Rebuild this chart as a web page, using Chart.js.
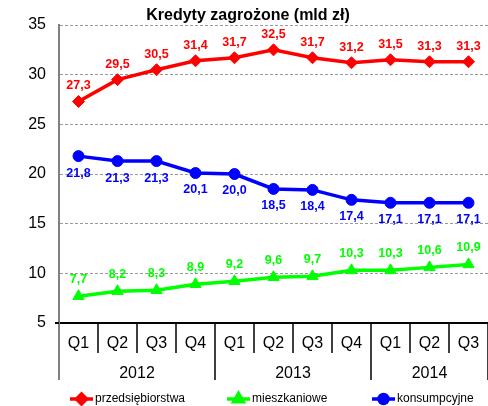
<!DOCTYPE html>
<html>
<head>
<meta charset="utf-8">
<script src="https://cdn.jsdelivr.net/npm/chart.js@4/dist/chart.umd.min.js"></script>
<style>
  html, body { margin: 0; padding: 0; background: #fff; }
  canvas { display: block; }
</style>
</head>
<body>
<canvas id="kredytyChart" width="488" height="406"></canvas>
<script>
// dane kwartalne (mld zł)
const quarters = ['Q1', 'Q2', 'Q3', 'Q4', 'Q1', 'Q2', 'Q3', 'Q4', 'Q1', 'Q2', 'Q3'];
const years = ['2012', '2013', '2014'];
const quartersPerYear = [4, 4, 3];
const przedsiebiorstwa = [27.3, 29.5, 30.5, 31.4, 31.7, 32.5, 31.7, 31.2, 31.5, 31.3, 31.3];
const mieszkaniowe = [7.7, 8.2, 8.3, 8.9, 9.2, 9.6, 9.7, 10.3, 10.3, 10.6, 10.9];
const konsumpcyjne = [21.8, 21.3, 21.3, 20.1, 20.0, 18.5, 18.4, 17.4, 17.1, 17.1, 17.1];
const yMin = 5, yMax = 35, yStep = 5;
const chartTitle = 'Kredyty zagrożone (mld zł)';

const FONT = 'Arial, "Liberation Sans", sans-serif';

function fmt(v) {
    return v.toFixed(1).replace('.', ',');
}

// etykiety wartości nad / pod punktami
const valueLabels = {
    id: 'valueLabels',
    afterDatasetsDraw(chart) {
        const ctx = chart.ctx;
        ctx.save();
        ctx.font = 'bold 12.5px ' + FONT;
        ctx.textAlign = 'center';
        ctx.textBaseline = 'middle';
        chart.data.datasets.forEach((ds, i) => {
            const meta = chart.getDatasetMeta(i);
            ctx.fillStyle = ds.borderColor;
            meta.data.forEach((pt, j) => {
                ctx.fillText(fmt(ds.data[j]), pt.x, pt.y + ds.labelOffset);
            });
        });
        ctx.restore();
    }
};

// tytuł, dwupoziomowa oś X i legenda
const decorations = {
    id: 'decorations',
    afterDraw(chart) {
        const ctx = chart.ctx;
        const area = chart.chartArea;
        const x = chart.scales.x;
        const bottom = area.bottom;

        ctx.save();
        // tytuł
        ctx.fillStyle = '#000';
        ctx.font = 'bold 16px ' + FONT;
        ctx.textAlign = 'center';
        ctx.textBaseline = 'middle';
        ctx.fillText(chartTitle, 248, 16);

        // linie podziału kategorii
        const step = x.getPixelForValue(1) - x.getPixelForValue(0);
        const yearEnds = [];
        let acc = 0;
        quartersPerYear.forEach(n => { acc += n; yearEnds.push(acc); });
        for (let k = 0; k <= quarters.length; k++) {
            const px = x.getPixelForValue(0) - step / 2 + k * step;
            const longLine = k === 0 || yearEnds.includes(k);
            ctx.beginPath();
            ctx.lineWidth = k === 0 ? 2 : 1.5;
            ctx.strokeStyle = k === 0 ? '#808080' : '#000';
            ctx.moveTo(px, bottom);
            ctx.lineTo(px, longLine ? 380 : 353);
            ctx.stroke();
        }
        // krótki odcinek osi X na lewo od osi Y
        ctx.beginPath();
        ctx.lineWidth = 2;
        ctx.strokeStyle = '#000';
        ctx.moveTo(area.left - 4, bottom);
        ctx.lineTo(area.left, bottom);
        ctx.stroke();

        // kwartały
        ctx.fillStyle = '#000';
        ctx.font = '16px ' + FONT;
        quarters.forEach((q, i) => {
            ctx.fillText(q, x.getPixelForValue(i), 344);
        });
        // lata
        let start = 0;
        years.forEach((yr, i) => {
            const n = quartersPerYear[i];
            const cx = (x.getPixelForValue(start) + x.getPixelForValue(start + n - 1)) / 2;
            ctx.fillText(yr, cx, 374);
            start += n;
        });

        // legenda
        const legendX = [70, 227, 372];
        ctx.font = '12px ' + FONT;
        ctx.textAlign = 'left';
        chart.data.datasets.forEach((ds, i) => {
            const lx = legendX[i];
            const ly = 399;
            ctx.strokeStyle = ds.borderColor;
            ctx.fillStyle = ds.borderColor;
            ctx.lineWidth = 3.5;
            ctx.beginPath();
            ctx.moveTo(lx, ly);
            ctx.lineTo(lx + 23, ly);
            ctx.stroke();
            Chart.helpers.drawPoint(ctx, {
                pointStyle: ds.pointStyle,
                radius: ds.pointRadius - 1,
                rotation: 0,
                borderWidth: 1
            }, lx + 11.5, ly);
            ctx.fillStyle = '#000';
            ctx.fillText(ds.label, lx + 25, ly);
        });
        ctx.restore();
    }
};

const ctx = document.getElementById('kredytyChart').getContext('2d');
new Chart(ctx, {
    type: 'line',
    data: {
        labels: quarters,
        datasets: [{
            label: 'przedsiębiorstwa',
            data: przedsiebiorstwa,
            borderColor: '#ff0000',
            backgroundColor: '#ff0000',
            borderWidth: 3.5,
            pointStyle: 'rectRot',
            pointRadius: 6,
            pointBorderWidth: 1,
            labelOffset: -15.5
        }, {
            label: 'mieszkaniowe',
            data: mieszkaniowe,
            borderColor: '#00ff00',
            backgroundColor: '#00ff00',
            borderWidth: 3.5,
            pointStyle: 'triangle',
            pointRadius: 6.5,
            pointBorderWidth: 1,
            labelOffset: -16.5
        }, {
            label: 'konsumpcyjne',
            data: konsumpcyjne,
            borderColor: '#0000ff',
            backgroundColor: '#0000ff',
            borderWidth: 3.5,
            pointStyle: 'circle',
            pointRadius: 5.5,
            pointBorderWidth: 1,
            labelOffset: 17
        }]
    },
    options: {
        responsive: false,
        animation: false,
        devicePixelRatio: 1,
        layout: { autoPadding: false, padding: { top: 25, right: 0, left: 0, bottom: 0 } },
        plugins: {
            legend: { display: false },
            title: { display: false },
            tooltip: { enabled: false }
        },
        elements: { line: { tension: 0 } },
        clip: false,
        scales: {
            x: {
                type: 'category',
                offset: true,
                grid: { display: false },
                ticks: { display: false },
                border: { display: true, color: '#000', width: 2 },
                afterFit(scale) { scale.height = 83; }
            },
            y: {
                min: yMin,
                max: yMax,
                ticks: {
                    stepSize: yStep,
                    color: '#000',
                    font: { family: FONT, size: 16 },
                    padding: 13
                },
                grid: { color: '#9a9a9a', lineWidth: 1, drawTicks: false },
                border: { display: true, color: '#808080', width: 2, dash: [3, 2] },
                afterFit(scale) { scale.width = 59; }
            }
        }
    },
    plugins: [valueLabels, decorations]
});
</script>
</body>
</html>
